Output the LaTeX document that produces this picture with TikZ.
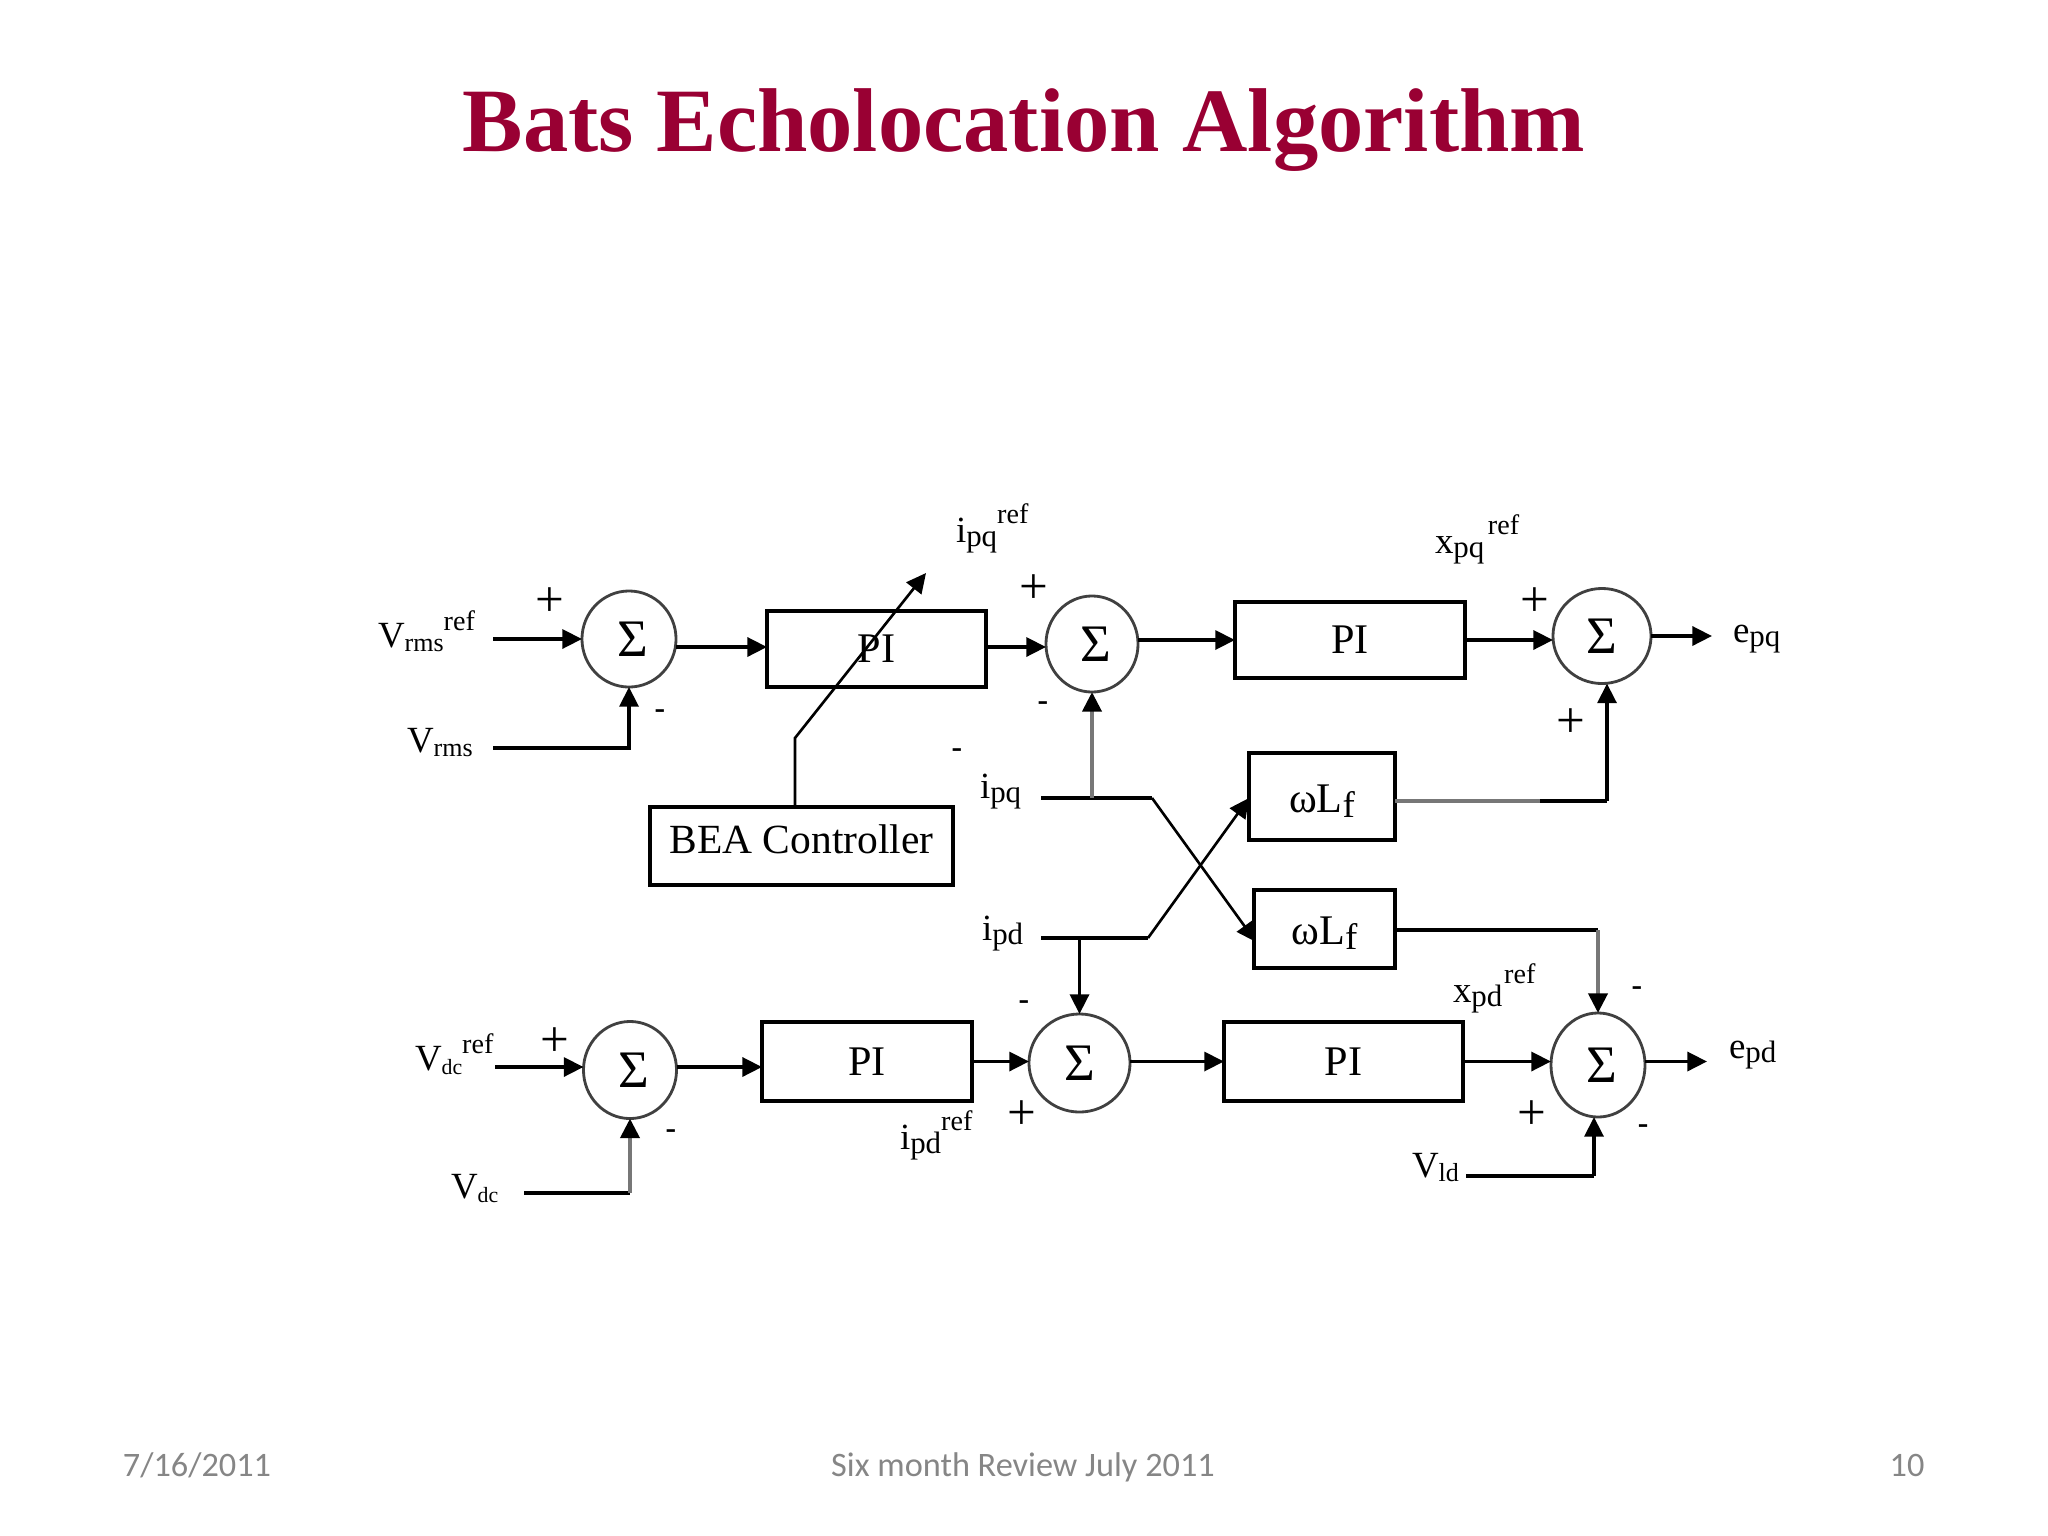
\documentclass[tikz,border=0pt]{standalone}
\usepackage{fontspec}
\setmainfont{Liberation Serif}
\newfontfamily\footfont{Carlito}
\usetikzlibrary{arrows.meta,shapes.geometric}
\definecolor{titlered}{HTML}{990033}
\definecolor{footgray}{HTML}{868686}
\definecolor{softline}{HTML}{777777}
\newcommand{\fsz}[1]{\fontsize{#1}{#1}\selectfont}
% main letter, subscript size, subscript, superscript raise, superscript
\newcommand{\sublab}[5]{\fsz{10.5}#1\raisebox{-1.3pt}{\fsz{#2}#3}\raisebox{#4}{\fsz{8}#5}}
\newcommand{\sumsym}[1]{\hspace*{#1}Σ}
\newcommand{\omegalf}{\rule{0pt}{10.4pt}ωL\raisebox{-1.5pt}{\fsz{10.5}f}}
\begin{document}
\begin{tikzpicture}[x=0.01cm,y=-0.01cm,
  wire/.style={line width=1pt,line join=miter},
  softwire/.style={line width=1.2pt,draw=softline},
  arr/.style={wire,-{Triangle[length=5.6pt,width=5.4pt,color=black]}},
  softarr/.style={softwire,-{Triangle[length=5.6pt,width=5.4pt,color=black]}},
  thinarr/.style={arr,line width=0.75pt},
  blockbox/.style={draw,line width=0.95pt,inner sep=0pt,outer sep=0pt,font=\fsz{12}},
  sumnode/.style={draw,ellipse,line width=0.8pt,draw=black!75,inner sep=0pt,outer sep=0pt,font=\fsz{15}},
  lab/.style={anchor=base west,inner sep=0pt,outer sep=0pt},
  sign/.style={inner sep=0pt,outer sep=0pt,yshift=-0.8pt,font=\fsz{14.5}},
  dashmark/.style={inner sep=0pt,outer sep=0pt,yshift=-1pt,font=\bfseries\fsz{9}},
  foot/.style={anchor=base,inner sep=0pt,text=footgray,font=\footfont\fsz{9.75}}]
\useasboundingbox (0,0) rectangle (2048,1536);

\node[anchor=base,inner sep=0pt,text=titlered,font=\bfseries\fsz{25.76}] (title) at (1024,151) {Bats Echolocation Algorithm};
\node[foot] (fdate) at (197,1476) {7/16/2011};
\node[foot] (fmid) at (1023,1476) {Six month Review July 2011};
\node[foot] (fnum) at (1907,1476) {10};

% sums
\node[sumnode,minimum width=0.94cm,minimum height=0.96cm] (s1) at (629,639) {\sumsym{2pt}};
\node[sumnode,minimum width=0.92cm,minimum height=0.96cm] (s2) at (1092,644) {\sumsym{2.4pt}};
\node[sumnode,minimum width=0.98cm,minimum height=0.95cm] (s3) at (1602,636) {Σ};
\node[sumnode,minimum width=0.93cm,minimum height=0.97cm] (s4) at (630,1070) {\sumsym{2pt}};
\node[sumnode,minimum width=1.01cm,minimum height=0.98cm] (s5) at (1079.5,1063) {Σ};
\node[sumnode,minimum width=0.94cm,minimum height=1.04cm] (s6) at (1598,1065) {\sumsym{2pt}};

% boxes
\node[blockbox,minimum width=2.19cm,minimum height=0.76cm] (pi1) at (876.5,649) {PI};
\node[blockbox,minimum width=2.30cm,minimum height=0.76cm] (pi2) at (1350,640) {PI};
\node[blockbox,minimum width=2.10cm,minimum height=0.79cm] (pi3) at (867,1061.5) {PI};
\node[blockbox,minimum width=2.39cm,minimum height=0.79cm] (pi4) at (1343.5,1061.5) {PI};
\node[blockbox,minimum width=3.03cm,minimum height=0.78cm,font=\fsz{11.8}] (bea) at (801.5,846) {\raisebox{3.8pt}{BEA Controller}};
\node[blockbox,minimum width=1.46cm,minimum height=0.87cm] (wl1) at (1322,796.5) {\omegalf};
\node[blockbox,minimum width=1.41cm,minimum height=0.78cm] (wl2) at (1324.5,929) {\omegalf};

% labels
\node[lab] (lvrmsref) at (378,647) {\sublab{V}{7.4}{rms}{4.7pt}{ref}};
\node[lab] (lvrms) at (407,752) {\sublab{V}{7.4}{rms}{0pt}{}};
\node[lab] (lipqref) at (956,542) {\sublab{i}{8.8}{pq}{5.4pt}{ref}};
\node[lab] (lipq) at (980,798) {\sublab{i}{8.8}{pq}{0pt}{}};
\node[lab] (lxpq) at (1435,553) {\sublab{x}{8.8}{pq}{5.4pt}{\hspace{1pt}ref}};
\node[lab] (lepq) at (1733,642) {\sublab{e}{8.8}{pq}{0pt}{}};
\node[lab] (lipd) at (982,940) {\sublab{i}{8.8}{pd}{0pt}{}};
\node[lab] (lvdref) at (415,1070) {\sublab{V}{6.2}{dc}{4.7pt}{ref}};
\node[lab] (lvd) at (451,1198) {\sublab{V}{6.2}{dc}{0pt}{}};
\node[lab] (lipdref) at (900,1149) {\sublab{i}{8.8}{pd}{5.4pt}{ref}};
\node[lab] (lxpd) at (1453,1002) {\sublab{x}{8.8}{pd}{5.4pt}{\hspace{0.5pt}ref}};
\node[lab] (lepd) at (1729,1058) {\sublab{e}{8.8}{pd}{0pt}{}};
\node[lab] (lvld) at (1412,1177) {\sublab{V}{7.4}{ld}{0pt}{}};

% signs
\node[sign] (p1) at (550,599) {+};
\node[dashmark] (m1) at (660,711) {-};
\node[sign] (p2) at (1034,586) {+};
\node[dashmark] (m2) at (1043,703) {-};
\node[dashmark] (m0) at (957,750) {-};
\node[sign] (p3) at (1535,599) {+};
\node[sign] (p4) at (1571,720) {+};
\node[sign] (p5) at (555,1039) {+};
\node[dashmark] (m3) at (671,1131) {-};
\node[sign] (p6) at (1022,1112) {+};
\node[dashmark] (m4) at (1024,1002) {-};
\node[dashmark] (m5) at (1637,988) {-};
\node[dashmark] (m6) at (1643,1126) {-};
\node[sign] (p7) at (1532,1112) {+};

% free ends and bends
\coordinate (vrefin) at (493,639);
\coordinate (vrmsin) at (493,748);
\coordinate (beakink) at (795,738);
\coordinate (beatip) at (926,573);
\coordinate (beabase) at (795,807);
\coordinate (ipqin) at (1041,798);
\coordinate (ipqknee) at (1152,798);
\coordinate (ipdin) at (1041,938);
\coordinate (ipdknee) at (1148,938);
\coordinate (ipqtip) at (1256,942);
\coordinate (ipdtip) at (1249,798);
\coordinate (s2tap) at (1092,798);
\coordinate (s5tap) at (1079.5,938);
\coordinate (wl1mid) at (1540,801);
\coordinate (wl1cor) at (1607,801);
\coordinate (wl1out) at (1395,801);
\coordinate (wl2out) at (1395,930);
\coordinate (wl2cor) at (1598,930);
\coordinate (eqout) at (1712,636);
\coordinate (edout) at (1707,1061.5);
\coordinate (vdrefin) at (495,1067);
\coordinate (vdin) at (524,1193);
\coordinate (vdcor) at (630,1193);
\coordinate (vldin) at (1466,1176);
\coordinate (vlin) at (1594,1176);
\coordinate (pi1o) at (986,647);
\coordinate (pi1i) at (767,647);
\coordinate (pi3i) at (762,1067);

% connectors
\draw[arr] (vrefin) -- (s1.west);
\draw[arr] (vrmsin) -| (s1.south);
\draw[arr] (pi1i -| s1.east) -- (pi1i);
\draw[arr] (pi1o) -- (pi1o -| s2.west);
\draw[arr] (s2.east |- pi2.west) -- (pi2.west);
\draw[arr] (pi2.east) -- (pi2.east -| s3.west);
\draw[arr] (s3.east) -- (eqout);
\draw[thinarr] (beabase) -- (beakink) -- (beatip);
\draw[wire] (ipqin) -- (ipqknee);
\draw[thinarr] (ipqknee) -- (ipqtip);
\draw[softarr] (s2tap) -- (s2.south);
\draw[wire] (ipdin) -- (ipdknee);
\draw[thinarr] (ipdknee) -- (ipdtip);
\draw[arr] (s5tap) -- (s5.north);
\draw[softwire] (wl1out) -- (wl1mid);
\draw[wire] (wl1mid) -- (wl1cor);
\draw[arr] (wl1cor) -- (wl1cor |- s3.south);
\draw[wire] (wl2out) -- (wl2cor);
\draw[softarr] (wl2cor) -- (s6.north);
\draw[arr] (vdrefin) -- (vdrefin -| s4.west);
\draw[wire] (vdin) -- (vdcor);
\draw[softarr] (vdcor) -- (s4.south);
\draw[arr] (pi3i -| s4.east) -- (pi3i);
\draw[arr] (pi3.east) -- (pi3.east -| s5.west);
\draw[arr] (pi4.west -| s5.east) -- (pi4.west);
\draw[arr] (pi4.east) -- (pi4.east -| s6.west);
\draw[arr] (pi4.east -| s6.east) -- (edout);
\draw[wire] (vldin) -- (vlin);
\draw[arr] (vlin) -- (vlin |- s6.south);
\end{tikzpicture}
\end{document}
